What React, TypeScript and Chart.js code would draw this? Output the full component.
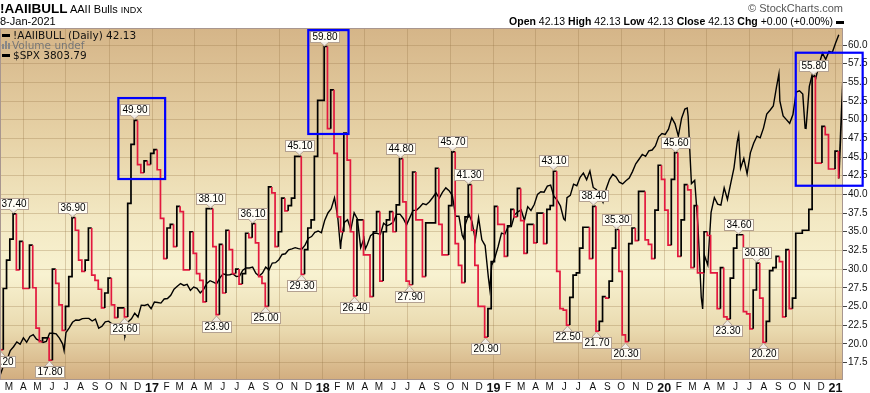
import React, { useEffect, useRef } from "react";
import { Chart, registerables } from "chart.js";

Chart.register(...registerables);

const DAY = 86400000;
const dayOf = (s: string) => Date.parse(s + "T00:00:00Z") / DAY;

// ---------- AAII bullish readings (weekly survey, Thursday) ----------
const aaiiFirstWeek = "2016-02-11";
const aaii2016 = [19.2, 27.4, 31.2, 34.0, 37.4, 29.9, 33.7, 27.4, 27.4, 33.2, 27.5, 22.1, 20.3, 20.8, 20.8, 17.8, 30.0, 28.1, 25.2, 21.8, 25.0, 29.0, 36.9, 35.2, 31.2, 29.7, 31.2, 35.5, 29.2, 28.5, 27.3, 24.8, 26.8, 28.8, 25.2, 23.5, 24.8, 24.8, 23.6, 38.8, 46.7, 49.9, 44.0, 42.9, 44.5, 44.0, 45.5];
const aaii2017 = [46.0, 43.3, 36.8, 31.4, 35.5, 36.0, 33.0, 38.4, 37.7, 29.9, 29.9, 35.0, 32.1, 29.4, 28.5, 25.6, 38.1, 38.1, 33.0, 23.9, 33.3, 26.8, 35.2, 32.6, 29.4, 30.0, 28.0, 29.4, 34.8, 34.2, 36.1, 33.5, 29.0, 28.1, 25.0, 41.0, 40.2, 33.0, 35.0, 39.5, 37.8, 38.5, 39.5, 45.1, 45.1, 29.3, 32.6, 35.5, 36.6, 45.1, 52.6, 52.6];
const aaii2018 = [59.8, 48.8, 54.0, 45.5, 37.0, 35.0, 48.2, 44.6, 35.0, 26.4, 36.6, 36.6, 31.9, 31.9, 26.3, 35.0, 37.7, 28.4, 35.0, 36.6, 37.7, 35.0, 38.6, 44.8, 39.0, 28.4, 27.9, 43.0, 36.6, 36.6, 29.0, 36.2, 36.2, 36.2, 43.5, 36.0, 31.9, 31.9, 38.5, 45.7, 33.4, 30.5, 28.2, 37.0, 41.3, 35.2, 30.5, 25.0, 25.0, 20.9, 24.7, 31.0];
const aaii2019 = [38.4, 36.0, 36.0, 31.7, 35.8, 38.0, 37.0, 40.8, 36.5, 32.1, 36.0, 36.0, 33.5, 37.5, 37.5, 33.4, 38.0, 38.5, 43.1, 29.7, 24.7, 24.5, 22.5, 26.2, 29.2, 29.5, 32.8, 35.6, 35.6, 31.4, 38.4, 21.7, 23.0, 26.3, 26.1, 28.4, 32.8, 35.3, 29.7, 21.2, 20.3, 33.4, 35.5, 33.8, 40.4, 40.4, 33.9, 33.3, 31.4, 37.9, 43.9, 42.0];
const aaii2020 = [37.9, 33.2, 42.0, 45.6, 31.7, 36.6, 41.3, 40.6, 30.2, 38.5, 29.5, 29.5, 35.0, 34.5, 29.5, 29.5, 24.7, 30.2, 23.6, 23.3, 28.8, 32.8, 34.6, 34.6, 24.3, 24.0, 22.0, 27.2, 30.8, 26.1, 20.2, 23.0, 29.8, 30.2, 31.7, 31.0, 23.6, 32.6, 24.7, 26.1, 34.8, 34.8, 35.2, 35.2, 38.0, 55.8, 44.2, 44.2, 49.1, 48.0, 43.4, 43.4, 45.8];
const aaii2021 = [42.13];
const chartDate = "2021-01-08";
const aaiiTailDate = "2021-01-17";
const aaiiTailValue = 55.6;

// ---------- S&P 500 weekly closes (Friday) ----------
const spxFirstWeek = "2016-02-12";
const spx2016 = [1864.78, 1917.78, 1948.05, 1999.99, 2022.19, 2049.58, 2035.94, 2072.78, 2047.6, 2080.73, 2091.58, 2065.3, 2057.14, 2046.61, 2052.32, 2099.06, 2099.13, 2096.07, 2071.22, 2037.41, 2102.95, 2129.9, 2161.74, 2175.03, 2173.6, 2182.87, 2184.05, 2183.87, 2169.04, 2179.98, 2127.81, 2139.16, 2164.69, 2168.27, 2153.74, 2132.98, 2141.16, 2126.41, 2085.18, 2164.45, 2181.9, 2213.35, 2191.95, 2259.53, 2258.07, 2263.79, 2238.83];
const spx2017 = [2276.98, 2274.64, 2271.31, 2294.69, 2297.42, 2316.1, 2351.16, 2367.34, 2383.12, 2372.6, 2378.25, 2343.98, 2362.72, 2355.54, 2328.95, 2348.69, 2384.2, 2399.29, 2390.9, 2381.73, 2415.82, 2439.07, 2431.77, 2433.15, 2438.3, 2423.41, 2425.18, 2459.27, 2472.54, 2472.1, 2476.83, 2441.32, 2425.55, 2443.05, 2476.55, 2461.43, 2500.23, 2502.22, 2519.36, 2549.33, 2553.17, 2575.21, 2581.07, 2587.84, 2582.3, 2578.85, 2602.42, 2642.22, 2651.5, 2675.81, 2683.34, 2673.61];
const spx2018 = [2743.15, 2786.24, 2810.3, 2872.87, 2762.13, 2619.55, 2732.22, 2747.3, 2691.25, 2786.57, 2752.01, 2588.26, 2640.87, 2604.47, 2656.3, 2670.14, 2669.91, 2663.42, 2727.72, 2712.97, 2721.33, 2734.62, 2779.03, 2779.42, 2754.88, 2718.37, 2759.82, 2801.31, 2801.83, 2818.82, 2840.35, 2833.28, 2850.13, 2874.69, 2901.52, 2871.68, 2904.98, 2929.67, 2913.98, 2885.57, 2767.13, 2767.78, 2658.69, 2723.06, 2781.01, 2736.27, 2632.56, 2760.17, 2633.08, 2599.95, 2416.62, 2485.74];
const spx2019 = [2531.94, 2596.26, 2670.71, 2664.76, 2706.53, 2707.88, 2775.6, 2792.67, 2803.69, 2743.07, 2822.48, 2800.71, 2834.4, 2892.74, 2907.41, 2905.03, 2939.88, 2945.64, 2881.4, 2859.53, 2826.06, 2752.06, 2873.34, 2886.98, 2950.46, 2941.76, 2990.41, 3013.77, 2976.61, 3025.86, 2932.05, 2918.65, 2888.68, 2847.11, 2926.46, 2978.71, 3007.39, 2992.07, 2961.79, 2952.01, 2970.27, 2986.2, 3022.55, 3066.91, 3093.08, 3120.46, 3110.29, 3140.98, 3145.91, 3168.8, 3221.22, 3240.02];
const spx2020 = [3234.85, 3265.35, 3329.62, 3295.47, 3225.52, 3327.71, 3380.16, 3337.75, 2954.22, 2972.37, 2711.02, 2304.92, 2541.47, 2488.65, 2789.82, 2874.56, 2836.74, 2830.71, 2929.8, 2863.7, 2955.45, 3044.31, 3193.93, 3041.31, 3097.74, 3009.05, 3130.01, 3185.04, 3224.73, 3215.63, 3271.12, 3351.28, 3372.85, 3397.16, 3508.01, 3426.96, 3340.97, 3319.47, 3298.46, 3348.44, 3477.13, 3483.81, 3465.39, 3269.96, 3509.44, 3585.15, 3557.54, 3638.35, 3699.12, 3663.46, 3709.41, 3703.06];
const spx2021 = [3756.07, 3803.79];
const spxExtraDates = ["2016-06-27", "2016-11-03", "2018-02-08", "2018-04-02", "2018-10-29", "2018-12-24", "2019-06-03", "2020-02-19", "2020-03-23", "2020-06-08", "2020-09-02", "2020-10-28"];
const spxExtraValues = [2000.54, 2088.66, 2581.0, 2581.88, 2641.25, 2351.1, 2744.45, 3386.15, 2237.4, 3232.39, 3580.84, 3271.03];

// ---------- value call-outs ----------
const calloutDates = ["2016-02-11", "2016-03-10", "2016-05-26", "2016-07-14", "2016-11-03", "2016-11-24", "2017-05-04", "2017-05-18", "2017-08-03", "2017-08-31", "2017-11-12", "2017-11-16", "2018-01-04", "2018-03-08", "2018-06-14", "2018-07-05", "2018-10-04", "2018-11-08", "2018-12-13", "2019-05-09", "2019-06-06", "2019-08-01", "2019-08-08", "2019-09-19", "2019-10-10", "2020-01-23", "2020-05-14", "2020-06-07", "2020-07-16", "2020-07-30", "2020-11-13"];
const calloutValues = [19.2, 37.4, 17.8, 36.9, 23.6, 49.9, 38.1, 23.9, 36.1, 25.0, 45.1, 29.3, 59.8, 26.4, 44.8, 27.9, 45.7, 41.3, 20.9, 43.1, 22.5, 38.4, 21.7, 35.3, 20.3, 45.6, 23.3, 34.6, 30.8, 20.2, 55.8];
const calloutSides = ["below", "above", "below", "above", "below", "above", "above", "below", "above", "below", "above", "below", "above", "below", "above", "below", "above", "above", "below", "above", "below", "above", "below", "above", "below", "above", "below", "above", "above", "below", "above"];

// ---------- highlight rectangles ----------
const boxFromDates = ["2016-10-21", "2017-12-01", "2020-10-08"];
const boxToDates = ["2017-01-29", "2018-02-25", "2021-02-28"];
const boxHighs = [52.9, 62.0, 58.97];
const boxLows = [42.06, 48.09, 41.16];

// ---------- axes ----------
const yTickValues = [17.5, 20, 22.5, 25, 27.5, 30, 32.5, 35, 37.5, 40, 42.5, 45, 47.5, 50, 52.5, 55, 57.5, 60];
const monthLetters = ["J", "F", "M", "A", "M", "J", "J", "A", "S", "O", "N", "D"];
const xFirstDay = "2016-02-11";
const xLastDay = "2021-01-17";
const aaiiMin = 15.15;
const aaiiMax = 62.28;
const spxMin = 1832;
const spxMax = 3843;

const RED = "#e2183e";
const BLACK = "#000000";
const GRID = "rgba(150,115,70,0.30)";
const FONT = "'Liberation Sans', Arial, sans-serif";

export default function App() {
  const ref = useRef<HTMLCanvasElement>(null);

  useEffect(() => {
    document.body.style.margin = "0";
    const canvas = ref.current;
    if (!canvas) return;

    const aaiiValues = [...aaii2016, ...aaii2017, ...aaii2018, ...aaii2019, ...aaii2020, ...aaii2021];
    const t0 = dayOf(aaiiFirstWeek);
    const aaiiPts: { x: number; y: number }[] = [];
    aaiiValues.forEach((v, k) => {
      const t = t0 + 7 * k;
      if (k > 0) aaiiPts.push({ x: t, y: aaiiValues[k - 1] });
      aaiiPts.push({ x: t, y: v });
    });
    aaiiPts.push({ x: dayOf(chartDate), y: aaiiValues[aaiiValues.length - 1] });
    const segColors: string[] = [];
    let cur = RED;
    for (let i = 0; i < aaiiPts.length - 1; i++) {
      const a = aaiiPts[i], b = aaiiPts[i + 1];
      if (b.y < a.y) cur = RED;
      else if (b.y > a.y) cur = BLACK;
      segColors.push(cur);
    }
    const tail = [
      { x: dayOf(chartDate), y: aaiiValues[aaiiValues.length - 1] },
      { x: dayOf(aaiiTailDate), y: aaiiTailValue },
    ];

    const spxValues = [...spx2016, ...spx2017, ...spx2018, ...spx2019, ...spx2020, ...spx2021];
    const s0 = dayOf(spxFirstWeek);
    const spxPts = spxValues.map((v, k) => ({ x: s0 + 7 * k, y: v }));
    spxExtraDates.forEach((d, i) => spxPts.push({ x: dayOf(d), y: spxExtraValues[i] }));
    spxPts.sort((a, b) => a.x - b.x);

    const xMin = dayOf(xFirstDay);
    const xMax = dayOf(xLastDay);
    const monthTicks: number[] = [];
    for (let y = 2016; y <= 2021; y++) {
      for (let m = 0; m < 12; m++) {
        const d = Date.UTC(y, m, 1) / DAY;
        if (d >= xMin && d <= xMax) monthTicks.push(d);
      }
    }
    const monthOf = (v: number) => new Date(v * DAY).getUTCMonth();
    const yearOf = (v: number) => new Date(v * DAY).getUTCFullYear();

    const decor = {
      id: "decor",
      beforeDraw(chart: any) {
        const { ctx, chartArea: a } = chart;
        const g = ctx.createLinearGradient(0, a.top, 0, a.bottom);
        g.addColorStop(0, "#d5b588");
        g.addColorStop(0.3, "#e6d1a5");
        g.addColorStop(0.55, "#f3e9c4");
        g.addColorStop(0.7, "#f8f2d1");
        g.addColorStop(0.86, "#e9d9ae");
        g.addColorStop(1, "#d2ad7f");
        ctx.save();
        ctx.fillStyle = g;
        ctx.fillRect(a.left, a.top, a.right - a.left, a.bottom - a.top);
        ctx.restore();
      },
      afterDatasetsDraw(chart: any) {
        const { ctx, scales } = chart;
        const xs = scales.x, ys = scales.y;
        ctx.save();
        ctx.font = "10px " + FONT;
        ctx.textAlign = "center";
        ctx.textBaseline = "middle";
        calloutDates.forEach((d, i) => {
          const px = Math.round(xs.getPixelForValue(dayOf(d)));
          const py = Math.round(ys.getPixelForValue(calloutValues[i]));
          const text = calloutValues[i].toFixed(2);
          const w = Math.round(ctx.measureText(text).width) + 4;
          const h = 11;
          const bx = Math.round(px - w / 2) + 0.5;
          let tip, base, by;
          if (calloutSides[i] === "above") {
            tip = py - 1; base = py - 5; by = base - h + 0.5;
          } else {
            tip = py + 1; base = py + 6; by = base + 0.5;
          }
          ctx.fillStyle = "#fffdf5";
          ctx.strokeStyle = "#b3a191";
          ctx.lineWidth = 1;
          ctx.fillRect(bx, by, w, h);
          ctx.strokeRect(bx, by, w, h);
          ctx.beginPath();
          ctx.moveTo(px - 4, base);
          ctx.lineTo(px + 0.5, tip);
          ctx.lineTo(px + 5, base);
          ctx.closePath();
          ctx.fillStyle = "#f1ece4";
          ctx.fill();
          ctx.beginPath();
          ctx.moveTo(px - 4, base);
          ctx.lineTo(px + 0.5, tip);
          ctx.lineTo(px + 5, base);
          ctx.stroke();
          ctx.fillStyle = "#000";
          ctx.fillText(text, bx + w / 2, by + h / 2 + 0.5);
        });
        ctx.restore();
      },
      afterDraw(chart: any) {
        const { ctx, chartArea: a, scales } = chart;
        const xs = scales.x, ys = scales.y;
        ctx.save();
        ctx.strokeStyle = "#a8968f";
        ctx.lineWidth = 1;
        ctx.strokeRect(a.left + 0.5, a.top + 0.5, a.right - a.left - 1, a.bottom - a.top - 1);
        ctx.strokeStyle = "#0000ff";
        ctx.lineWidth = 2.2;
        boxFromDates.forEach((d, i) => {
          const x1 = xs.getPixelForValue(dayOf(d));
          const x2 = xs.getPixelForValue(dayOf(boxToDates[i]));
          const y1 = ys.getPixelForValue(boxHighs[i]);
          const y2 = ys.getPixelForValue(boxLows[i]);
          ctx.strokeRect(x1, y1, x2 - x1, y2 - y1);
        });
        ctx.restore();
      },
    };

    const chart = new Chart(canvas, {
      type: "line",
      data: {
        datasets: [
          {
            label: "AAII",
            data: aaiiPts,
            yAxisID: "y",
            borderColor: BLACK,
            borderWidth: 1.7,
            pointRadius: 0,
            tension: 0,
            segment: { borderColor: (c: any) => segColors[c.p0DataIndex] },
          },
          {
            label: "tail",
            data: tail,
            yAxisID: "y",
            borderColor: BLACK,
            borderWidth: 1.7,
            pointRadius: 0,
          },
          {
            label: "SPX",
            data: spxPts,
            yAxisID: "y2",
            borderColor: BLACK,
            borderWidth: 1.4,
            pointRadius: 0,
            tension: 0,
          },
        ],
      },
      options: {
        responsive: false,
        animation: false,
        devicePixelRatio: 1,
        events: [],
        layout: { padding: { top: 28, left: 0, right: 0, bottom: 0 } },
        plugins: { legend: { display: false }, tooltip: { enabled: false } },
        scales: {
          x: {
            type: "linear",
            min: xMin,
            max: xMax,
            afterBuildTicks: (s: any) => {
              s.ticks = monthTicks.map((v) => ({ value: v }));
            },
            afterFit: (s: any) => {
              s.height = 13;
            },
            ticks: {
              autoSkip: false,
              maxRotation: 0,
              minRotation: 0,
              padding: 1,
              color: "#111",
              font: (c: any) =>
                c.tick && monthOf(c.tick.value) === 0
                  ? { size: 12.5, weight: "bold", family: FONT }
                  : { size: 10, family: FONT },
              callback: (v: any) => {
                const n = Number(v);
                return monthOf(n) === 0 ? String(yearOf(n) % 100).padStart(2, "0") : monthLetters[monthOf(n)];
              },
            },
            grid: {
              drawTicks: false,
              color: (c: any) => (c.tick && monthOf(c.tick.value) % 3 === 0 ? GRID : "rgba(0,0,0,0)"),
            },
            border: { display: false },
          },
          y: {
            type: "linear",
            position: "right",
            min: aaiiMin,
            max: aaiiMax,
            afterBuildTicks: (s: any) => {
              s.ticks = yTickValues.map((v) => ({ value: v }));
            },
            afterFit: (s: any) => {
              s.width = 27;
            },
            ticks: {
              padding: 1,
              color: "#111",
              font: { size: 10, family: FONT },
              callback: (v: any) => Number(v).toFixed(1),
            },
            grid: { color: GRID, tickLength: 4, tickColor: "#444", drawTicks: true },
            border: { display: false },
          },
          y2: { type: "linear", display: false, min: spxMin, max: spxMax },
        },
      },
      plugins: [decor],
    } as any);
    return () => chart.destroy();
  }, []);

  const dash = (
    <span style={{ display: "inline-block", width: 8, height: 3, background: "#000", verticalAlign: "middle", marginRight: 3, marginTop: -2 }} />
  );
  const legendStyle: React.CSSProperties = {
    position: "absolute",
    left: 2,
    fontFamily: "'DejaVu Sans', Verdana, sans-serif",
    fontSize: 10.5,
    lineHeight: "10px",
    whiteSpace: "nowrap",
    color: "#111",
  };
  return (
    <div style={{ position: "relative", width: 870, height: 393, background: "#fff", overflow: "hidden", fontFamily: FONT }}>
      <canvas ref={ref} width={870} height={393} style={{ position: "absolute", left: 0, top: 0, width: 870, height: 393 }} />
      <div style={{ position: "absolute", left: 0, top: 0, whiteSpace: "nowrap", lineHeight: "16px" }}>
        <span style={{ fontSize: 13.5, fontWeight: "bold" }}>!AAIIBULL</span>
        <span style={{ fontSize: 11 }}> AAII Bulls </span>
        <span style={{ fontSize: 9 }}> INDX</span>
      </div>
      <div style={{ position: "absolute", left: 0, top: 15, fontSize: 11, lineHeight: "13px", whiteSpace: "nowrap" }}>8-Jan-2021</div>
      <div style={{ position: "absolute", right: 27, top: 2, fontSize: 11, lineHeight: "13px", color: "#555", whiteSpace: "nowrap" }}>© StockCharts.com</div>
      <div style={{ position: "absolute", right: 26, top: 15, fontSize: 10.5, lineHeight: "13px", whiteSpace: "nowrap" }}>
        <b>Open</b> 42.13 <b>High</b> 42.13 <b>Low</b> 42.13 <b>Close</b> 42.13 <b>Chg</b> +0.00 (+0.00%){" "}
        <span style={{ display: "inline-block", width: 8, height: 3, background: "#000", verticalAlign: "middle" }} />
      </div>
      <div style={{ ...legendStyle, top: 30 }}>
        {dash}!AAIIBULL (Daily) 42.13
      </div>
      <div style={{ ...legendStyle, top: 40, color: "#777" }}>
        <span style={{ display: "inline-flex", alignItems: "flex-end", height: 8, marginRight: 2, verticalAlign: "middle", marginTop: -3 }}>
          <span style={{ width: 2, height: 5, background: "#888", marginRight: 1 }} />
          <span style={{ width: 2, height: 8, background: "#888", marginRight: 1 }} />
          <span style={{ width: 2, height: 6, background: "#888" }} />
        </span>
        Volume undef
      </div>
      <div style={{ ...legendStyle, top: 50 }}>
        {dash}$SPX 3803.79
      </div>
    </div>
  );
}
